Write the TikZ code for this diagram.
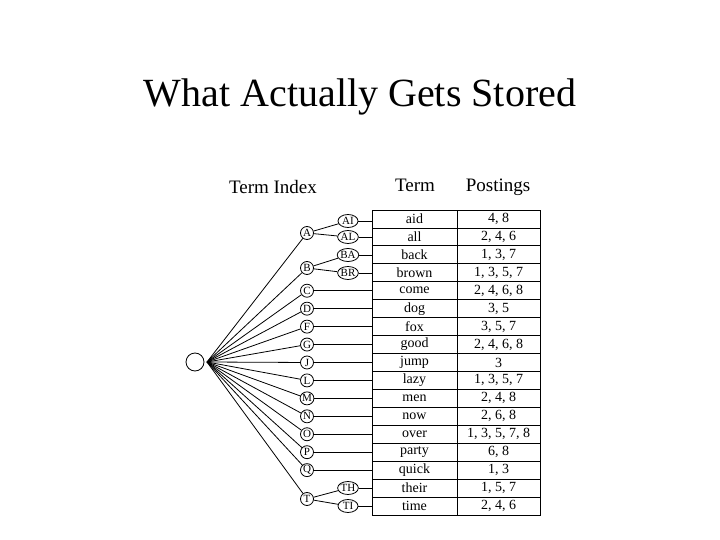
\documentclass[tikz,border=0pt]{standalone}
\usepackage{fontspec}
\setmainfont{Liberation Serif}
\usetikzlibrary{shapes.geometric}
\begin{document}
\begin{tikzpicture}[x=1pt,y=-1pt,
  leaf/.style={draw,thick,ellipse,inner sep=0pt,minimum width=13pt,minimum height=13pt,font=\fontsize{11}{11}\selectfont},
  leaftwo/.style={leaf,minimum width=20pt},
  cell/.style={draw,thick,minimum height=17.94pt,inner sep=0pt,font=\fontsize{14}{14}\selectfont},
  link/.style={thick}]
\useasboundingbox (0,0) rectangle (720,540);
\node at (360,97) {\fontsize{40}{40}\selectfont What Actually Gets Stored};
\node at (273,187) {\fontsize{19}{19}\selectfont Term Index};
\node at (415,185) {\fontsize{19}{19}\selectfont Term};
\node at (498,187) {\fontsize{19}{19}\selectfont Postings};
\node[draw,thick,circle,minimum size=18pt,inner sep=0pt] (root) at (195,362) {};
\coordinate (hub) at (207,362);
% table
\def\rh{17.94}
\foreach \t/\p [count=\i from 0] in {aid/{4, 8},all/{2, 4, 6},back/{1, 3, 7},brown/{1, 3, 5, 7},come/{2, 4, 6, 8},dog/{3, 5},fox/{3, 5, 7},good/{2, 4, 6, 8},jump/3,lazy/{1, 3, 5, 7},men/{2, 4, 8},now/{2, 6, 8},over/{1, 3, 5, 7, 8},party/{6, 8},quick/{1, 3},their/{1, 5, 7},time/{2, 4, 6}}{
  \node[cell,minimum width=85pt] (t\i) at (414.5,{210+\rh*(\i+0.5)}) {\t};
  \node[cell,minimum width=83pt] (p\i) at (498.5,{210+\rh*(\i+0.5)}) {\p};
}
% first level
\node[leaf] (A) at (307,233) {A};
\node[leaf] (B) at (307,268) {B};
\node[leaf] (T) at (307,499) {T};
\foreach \n in {A,B,T} \draw[link] (hub) -- (\n);
% level two
\node[leaftwo] (AI) at (348,221) {AI};
\node[leaftwo] (AL) at (348,237) {AL};
\node[leaftwo] (BA) at (348,255) {BA};
\node[leaftwo] (BR) at (348,273) {BR};
\node[leaftwo] (TH) at (348,488) {TH};
\node[leaftwo] (TI) at (348,506) {TI};
\draw[link] (A) -- (AI); \draw[link] (A) -- (AL);
\draw[link] (B) -- (BA); \draw[link] (B) -- (BR);
\draw[link] (T) -- (TH); \draw[link] (T) -- (TI);
\draw[link] (AI) -- (t0.west|-AI); \draw[link] (AL) -- (t1.west|-AL);
\draw[link] (BA) -- (t2.west|-BA); \draw[link] (BR) -- (t3.west|-BR);
\draw[link] (TH) -- (t15.west|-TH); \draw[link] (TI) -- (t16.west|-TI);
\foreach \n/\k in {C/4,D/5,F/6,G/7,J/8,L/9,M/10,N/11,O/12,P/13,Q/14}{
  \node[leaf] (\n) at (307,{210+\rh*(\k+0.5)}) {\n};
  \draw[link] (hub) -- (\n);
  \draw[link] (\n) -- (t\k.west);
}
\end{tikzpicture}
\end{document}
